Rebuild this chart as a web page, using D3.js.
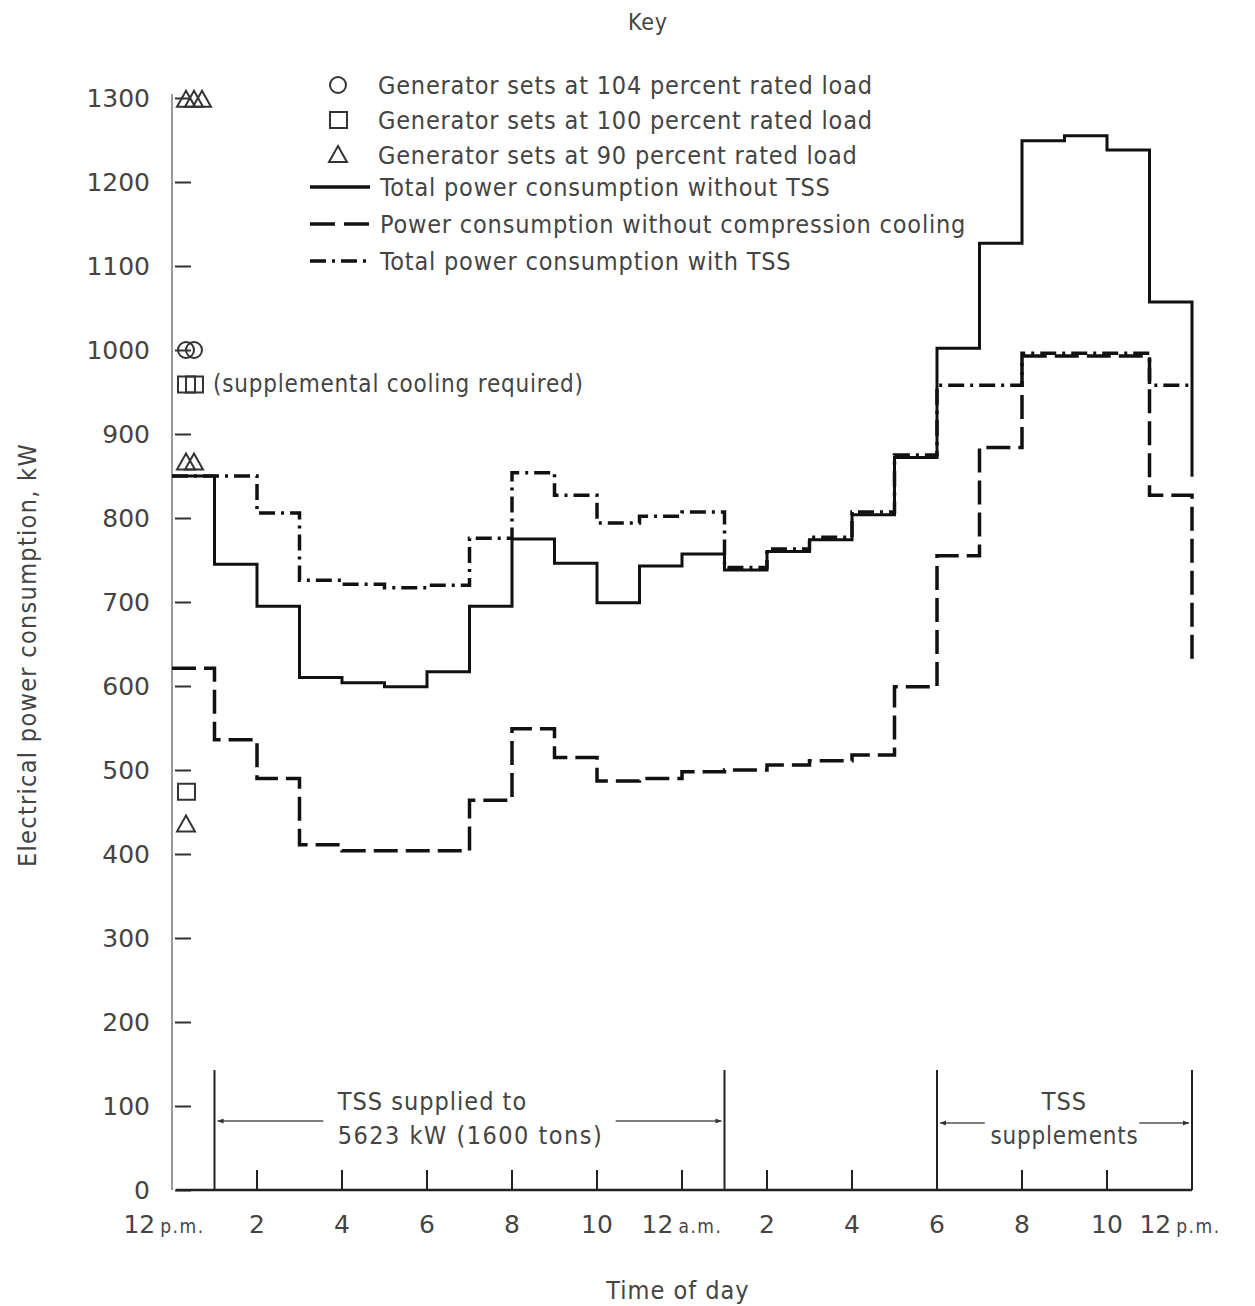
<!DOCTYPE html>
<html>
<head>
<meta charset="utf-8">
<script src="https://cdn.jsdelivr.net/npm/d3@7"></script>
<style>
  body { margin: 0; background: #fff; }
  text { font-family: "DejaVu Sans Condensed", "DejaVu Sans", sans-serif; fill: #444; }
  .num { font-family: "DejaVu Sans", sans-serif; }
</style>
</head>
<body>
<script>
// hours after noon (0 = 12 p.m., 24 = next 12 p.m.)
const hours = [0, 1, 2, 3, 4, 5, 6, 7, 8, 9, 10, 11, 12, 13, 14, 15, 16, 17, 18, 19, 20, 21, 22, 23, 24]

// kW for each hour step, last value = where the line ends at 24
const totalNoTSS = [850, 745, 695, 610, 604, 599, 617, 695, 775, 746, 699, 743, 757, 738, 760, 774, 804, 872, 1002, 1127, 1249, 1255, 1238, 1057, 849]
const noCompression = [621, 536, 490, 411, 404, 404, 404, 464, 549, 515, 487, 490, 498, 500, 506, 511, 518, 599, 755, 884, 993, 993, 993, 827, 627]
const totalWithTSS = [850, 850, 806, 726, 721, 717, 720, 776, 854, 827, 794, 802, 807, 741, 763, 777, 807, 875, 958, 958, 996, 996, 996, 958, 958]

// generator set markers on the y axis
const circleLoads = [1000, 1000]
const squareLoads = [959, 959, 474]
const triangleLoads = [1298, 1298, 1298, 866, 866, 435]

const yTicks = [0, 100, 200, 300, 400, 500, 600, 700, 800, 900, 1000, 1100, 1200, 1300]
const xTicks = [0, 2, 4, 6, 8, 10, 12, 14, 16, 18, 20, 22, 24]
const xTickNums = ['12', '2', '4', '6', '8', '10', '12', '2', '4', '6', '8', '10', '12']
const xTickSuffix = ['p.m.', '', '', '', '', '', 'a.m.', '', '', '', '', '', 'p.m.']
const markTicks = [2, 4, 6, 8, 10, 12, 14, 16, 20, 22]

const keyMarkers = ['circle', 'square', 'triangle']
const keyMarkerLabels = ['Generator sets at 104 percent rated load', 'Generator sets at 100 percent rated load', 'Generator sets at 90 percent rated load']
const keyLineLabels = ['Total power consumption without TSS', 'Power consumption without compression cooling', 'Total power consumption with TSS']

const tssBars = [1, 13, 18, 24]
const tssSpans = [[1, 13], [18, 24]]
const tssText = [['TSS supplied to', '5623 kW (1600 tons)'], ['TSS', 'supplements']]

const W = 1255, H = 1306
const dashes = [null, '24,8', '16,6,3,6']

let svg = d3.select('body')
  .append('svg')
  .attr('width', W)
  .attr('height', H)

svg.append('rect').attr('width', W).attr('height', H).attr('fill', '#fff')

let x = d3.scaleLinear().domain([0, 24]).range([172, 1192])
let y = d3.scaleLinear().domain([0, 1300]).range([1190, 98])

// y axis
let yAxis = svg.append('g')
  .attr('transform', 'translate(172,0)')
  .call(d3.axisLeft(y).tickValues(yTicks).tickFormat(d3.format('d')).tickSize(-19).tickSizeOuter(0).tickPadding(22))
yAxis.select('.domain').attr('stroke', '#777').attr('stroke-width', 1.5).attr('d', 'M0,94V1190')
yAxis.selectAll('.tick line').attr('stroke', '#333').attr('stroke-width', 2).attr('x1', 3)
yAxis.selectAll('.tick text')
  .attr('class', 'num')
  .style('font-size', '25px')
  .attr('fill', '#444')
  .attr('font-family', null)

// x axis
svg.append('line')
  .attr('x1', x(0) + 4).attr('x2', x(24))
  .attr('y1', y(0)).attr('y2', y(0))
  .attr('stroke', '#222').attr('stroke-width', 2.5)

svg.selectAll('.xmark')
  .data(markTicks)
  .join('line')
  .attr('x1', d => x(d)).attr('x2', d => x(d))
  .attr('y1', y(0)).attr('y2', y(0) - 20)
  .attr('stroke', '#222').attr('stroke-width', 2)

let xl = svg.selectAll('.xlab')
  .data(xTicks)
  .join('text')
  .attr('x', (d, i) => i == 0 ? x(d) - 8 : (i == xTicks.length - 1 ? x(d) - 12 : x(d)))
  .attr('y', 1233)
  .attr('text-anchor', 'middle')
  .attr('class', 'num')
  .style('font-size', '25px')
xl.append('tspan').text((d, i) => xTickNums[i])
xl.append('tspan')
  .attr('dx', (d, i) => xTickSuffix[i] ? 5 : 0)
  .style('font-size', '19px')
  .style('letter-spacing', '1.5px')
  .style('font-family', '"DejaVu Sans Condensed", sans-serif')
  .text((d, i) => xTickSuffix[i])

// axis titles
svg.append('text')
  .attr('x', 678).attr('y', 1299)
  .attr('text-anchor', 'middle')
  .style('font-size', '25px')
  .style('letter-spacing', '1px')
  .text('Time of day')

svg.append('text')
  .attr('transform', 'translate(36,655) rotate(-90)')
  .attr('text-anchor', 'middle')
  .style('font-size', '25px')
  .style('letter-spacing', '1.3px')
  .text('Electrical power consumption, kW')

// TSS bars and arrows
svg.selectAll('.bar')
  .data(tssBars)
  .join('line')
  .attr('x1', d => x(d)).attr('x2', d => x(d))
  .attr('y1', 1070).attr('y2', y(0))
  .attr('stroke', '#222').attr('stroke-width', 2)

let defs = svg.append('defs')
defs.append('marker')
  .attr('id', 'arr')
  .attr('viewBox', '0 0 10 10')
  .attr('refX', 10).attr('refY', 5)
  .attr('markerWidth', 9).attr('markerHeight', 6)
  .attr('markerUnits', 'userSpaceOnUse')
  .attr('orient', 'auto')
  .append('path').attr('d', 'M0,1L10,5L0,9Z').attr('fill', '#333')

const arrowGap = [[0.21, 0.21], [0.18, 0.2]]
tssSpans.forEach((s, i) => {
  let x0 = x(s[0]) + 3, x1 = x(s[1]) - 3
  let w = x1 - x0
  let mid = (x0 + x1) / 2
  let ay = i == 0 ? 1121 : 1123
  svg.append('line')
    .attr('x1', x0 + w * arrowGap[i][0]).attr('x2', x0)
    .attr('y1', ay).attr('y2', ay)
    .attr('stroke', '#555').attr('stroke-width', 1.5)
    .attr('marker-end', 'url(#arr)')
  svg.append('line')
    .attr('x1', x1 - w * arrowGap[i][1]).attr('x2', x1)
    .attr('y1', ay).attr('y2', ay)
    .attr('stroke', '#555').attr('stroke-width', 1.5)
    .attr('marker-end', 'url(#arr)')
  let tx = i == 0 ? [x(s[0]) + 218, x(s[0]) + 256] : [mid, mid]
  svg.append('text')
    .attr('x', tx[0]).attr('y', 1110)
    .attr('text-anchor', 'middle')
    .style('font-size', '25px')
    .style('letter-spacing', '1px')
    .text(tssText[i][0])
  svg.append('text')
    .attr('x', tx[1]).attr('y', 1144)
    .attr('text-anchor', 'middle')
    .style('font-size', i == 0 ? '25px' : '24px')
    .style('letter-spacing', i == 0 ? '1.5px' : '0.8px')
    .text(tssText[i][1])
})

// step lines
const series = [totalNoTSS, noCompression, totalWithTSS]
let line = d3.line()
  .x((d, i) => x(hours[i]))
  .y(d => y(d))
  .curve(d3.curveStepAfter)

svg.selectAll('.series')
  .data(series)
  .join('path')
  .attr('d', d => line(d))
  .attr('fill', 'none')
  .attr('stroke', '#111')
  .attr('stroke-width', (d, i) => i == 0 ? 3 : 3.5)
  .attr('stroke-dasharray', (d, i) => dashes[i])

// markers
function shapePath(type, cx, cy) {
  if (type == 'circle') {
    let p = d3.path()
    p.moveTo(cx + 8, cy)
    p.arc(cx, cy, 8, 0, 2 * Math.PI)
    return p.toString()
  }
  if (type == 'square') return `M${cx - 8},${cy - 8}h17v16h-17Z`
  return `M${cx},${cy - 9}L${cx + 9},${cy + 7}L${cx - 9},${cy + 7}Z`
}

function drawMarkers(type, values) {
  let seen = new Map()
  values.forEach(v => {
    let n = seen.get(v) || 0
    seen.set(v, n + 1)
    svg.append('path')
      .attr('d', shapePath(type, 186 + n * 8, y(v)))
      .attr('fill', 'none')
      .attr('stroke', '#333')
      .attr('stroke-width', 2)
  })
}
drawMarkers('circle', circleLoads)
drawMarkers('square', squareLoads)
drawMarkers('triangle', triangleLoads)

svg.append('text')
  .attr('x', 213).attr('y', y(959) + 8)
  .style('font-size', '24px')
  .style('letter-spacing', '0.8px')
  .text('(supplemental cooling required)')

// key
svg.append('text')
  .attr('x', 648).attr('y', 30)
  .attr('text-anchor', 'middle')
  .style('font-size', '23px')
  .style('letter-spacing', '0.8px')
  .text('Key')

keyMarkers.forEach((m, i) => {
  let ky = 85 + i * 35
  svg.append('path')
    .attr('d', shapePath(m, 338, ky))
    .attr('fill', 'none').attr('stroke', '#333').attr('stroke-width', 2)
  svg.append('text')
    .attr('x', 378).attr('y', ky + 9)
    .style('font-size', '25px')
    .style('letter-spacing', '0.8px')
    .text(keyMarkerLabels[i])
})

keyLineLabels.forEach((t, i) => {
  let ky = 187 + i * 37
  svg.append('line')
    .attr('x1', 310).attr('x2', 370)
    .attr('y1', ky).attr('y2', ky)
    .attr('stroke', '#111').attr('stroke-width', 3.5)
    .attr('stroke-dasharray', i == 1 ? '25,9' : dashes[i])
  svg.append('text')
    .attr('x', 380).attr('y', ky + 9)
    .style('font-size', '25px')
    .style('letter-spacing', '0.8px')
    .text(t)
})
</script>
</body>
</html>
